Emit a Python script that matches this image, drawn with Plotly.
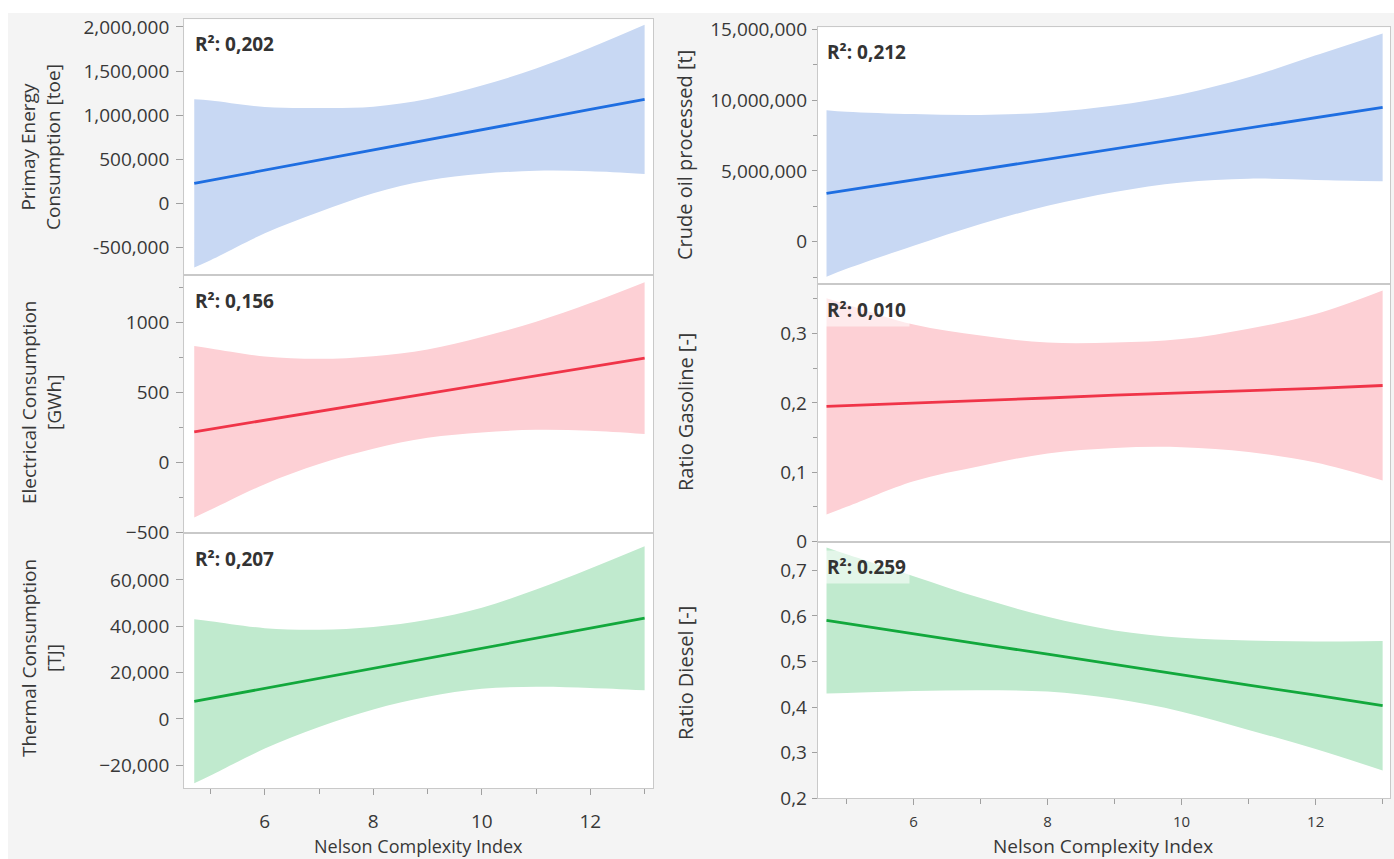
import plotly.graph_objects as go

W, H = 1394, 859

# ---------------- data ----------------
nci = [4.7, 5, 6, 7, 8, 9, 10, 11, 12, 13]

primary_fit = [227000, 261000, 376000, 491000, 605000, 720000, 835000, 949000, 1064000, 1179000]
primary_upper = [1180000, 1166000, 1092000, 1081000, 1095000, 1182000, 1335000, 1529000, 1764000, 2024000]
primary_lower = [-726000, -644000, -340000, -99000, 115000, 258000, 335000, 369000, 364000, 334000]

elec_fit = [219, 238, 301, 364, 428, 491, 554, 618, 681, 744]
elec_upper = [830, 813, 756, 739, 758, 806, 894, 1003, 1136, 1285]
elec_lower = [-392, -337, -154, -11, 98, 176, 214, 233, 226, 203]

thermal_fit = [7600, 8900, 13200, 17500, 21900, 26200, 30500, 34900, 39200, 43500]
thermal_upper = [43000, 42200, 39200, 38500, 39700, 42800, 48000, 55900, 65000, 74600]
thermal_lower = [-27800, -24400, -12800, -3500, 4100, 9600, 13000, 13900, 13400, 12400]

crude_fit = [3410000, 3630000, 4360000, 5100000, 5830000, 6560000, 7300000, 8030000, 8760000, 9490000]
crude_upper = [9290000, 9180000, 9010000, 8950000, 9130000, 9610000, 10420000, 11610000, 13160000, 14710000]
crude_lower = [-2470000, -1920000, -290000, 1250000, 2530000, 3510000, 4180000, 4450000, 4360000, 4270000]

gas_fit = [0.195, 0.196, 0.200, 0.203, 0.207, 0.211, 0.214, 0.218, 0.221, 0.225]
gas_upper = [0.351, 0.342, 0.313, 0.297, 0.287, 0.287, 0.292, 0.307, 0.328, 0.362]
gas_lower = [0.039, 0.050, 0.087, 0.109, 0.127, 0.135, 0.136, 0.129, 0.114, 0.088]

diesel_fit = [0.590, 0.583, 0.561, 0.538, 0.516, 0.493, 0.471, 0.448, 0.426, 0.403]
diesel_upper = [0.750, 0.735, 0.687, 0.639, 0.598, 0.568, 0.552, 0.546, 0.544, 0.545]
diesel_lower = [0.430, 0.431, 0.435, 0.437, 0.434, 0.418, 0.390, 0.350, 0.308, 0.261]

r2_labels = ["R²: 0,202", "R²: 0,156", "R²: 0,207", "R²: 0,212", "R²: 0,010", "R²: 0.259"]

y_titles = ["Primay Energy<br>Consumption [toe]", "Electrical Consumption<br>[GWh]",
            "Thermal Consumption<br>[TJ]", "Crude oil processed [t]",
            "Ratio Gasoline [-]", "Ratio Diesel [-]"]
x_title = "Nelson Complexity Index"

x_tickvals = [6, 8, 10, 12]
x_ticktext = ["6", "8", "10", "12"]

yt_primary = [-500000, 0, 500000, 1000000, 1500000, 2000000]
yl_primary = ["-500,000", "0", "500,000", "1,000,000", "1,500,000", "2,000,000"]
yt_elec = [-500, 0, 500, 1000]
yl_elec = ["\u2212500", "0", "500", "1000"]
yt_thermal = [-20000, 0, 20000, 40000, 60000]
yl_thermal = ["\u221220,000", "0", "20,000", "40,000", "60,000"]
yt_crude = [0, 5000000, 10000000, 15000000]
yl_crude = ["0", "5,000,000", "10,000,000", "15,000,000"]
yt_gas = [0, 0.1, 0.2, 0.3]
yl_gas = ["0", "0,1", "0,2", "0,3"]
yt_diesel = [0.2, 0.3, 0.4, 0.5, 0.6, 0.7]
yl_diesel = ["0,2", "0,3", "0,4", "0,5", "0,6", "0,7"]

# ---------------- styling ----------------
BLUE, BLUE_F = "rgb(30,110,225)", "rgb(200,216,243)"
RED, RED_F = "rgb(240,52,72)", "rgb(253,208,213)"
GREEN, GREEN_F = "rgb(18,168,60)", "rgb(192,234,206)"
FONT = "Open Sans"
TXT = "#383838"

def px_x(p):
    return p / W

def px_y(p):
    return 1 - p / H

L_X = (184.1, 653.3)
R_X = (817.8, 1390.0)
panels = [
    (primary_fit, primary_upper, primary_lower, BLUE, BLUE_F, L_X, (19.3, 275.0), [-812000, 2086000], yt_primary, yl_primary, None, [4.513, 13.16]),
    (elec_fit, elec_upper, elec_lower, RED, RED_F, L_X, (275.0, 532.7), [-500, 1336], yt_elec, yl_elec, 250, [4.513, 13.16]),
    (thermal_fit, thermal_upper, thermal_lower, GREEN, GREEN_F, L_X, (532.7, 788.0), [-29800, 80400], yt_thermal, yl_thermal, None, [4.513, 13.16]),
    (crude_fit, crude_upper, crude_lower, BLUE, BLUE_F, R_X, (27.3, 284.3), [-3010000, 15140000], yt_crude, yl_crude, 2500000, [4.57, 13.11]),
    (gas_fit, gas_upper, gas_lower, RED, RED_F, R_X, (284.3, 541.5), [0, 0.371], yt_gas, yl_gas, 0.05, [4.57, 13.11]),
    (diesel_fit, diesel_upper, diesel_lower, GREEN, GREEN_F, R_X, (541.5, 798.3), [0.2, 0.763], yt_diesel, yl_diesel, None, [4.57, 13.11]),
]

fig = go.Figure()
layout = {}
for i, (fit, up, lo, lc, fc, xd, yd, yr, tv, tt, minor, xr) in enumerate(panels):
    n = "" if i == 0 else str(i + 1)
    xa, ya = "x" + n, "y" + n
    fig.add_trace(go.Scatter(x=nci, y=lo, mode="lines", line=dict(width=0, color=fc, shape="spline"),
                             xaxis=xa, yaxis=ya, showlegend=False, hoverinfo="skip"))
    fig.add_trace(go.Scatter(x=nci, y=up, mode="lines", line=dict(width=0, color=fc, shape="spline"),
                             fill="tonexty", fillcolor=fc, xaxis=xa, yaxis=ya, showlegend=False, hoverinfo="skip"))
    fig.add_trace(go.Scatter(x=nci, y=fit, mode="lines", line=dict(width=2.8, color=lc),
                             xaxis=xa, yaxis=ya, showlegend=False))
    bottom = i in (2, 5)
    left = i < 3
    xax = dict(domain=[px_x(xd[0]), px_x(xd[1])], range=xr, anchor=ya, automargin=False,
               showline=True, mirror=True, linecolor="#c9c9c9", linewidth=1,
               showgrid=False, zeroline=False, fixedrange=True)
    if bottom:
        xax.update(tickmode="array", tickvals=x_tickvals, ticktext=x_ticktext,
                   ticks="outside", ticklen=6, tickcolor="#a0a0a0",
                   ticklabelstandoff=10 if left else 4,
                   tickfont=dict(family=FONT, size=19 if left else 15, color=TXT),
                   minor=dict(dtick=1, tick0=5, ticks="outside", ticklen=5, tickcolor="#a0a0a0"))
    else:
        xax.update(showticklabels=False, ticks="")
    yax = dict(domain=[px_y(yd[1]), px_y(yd[0])], range=yr, anchor=xa, automargin=False,
               showline=True, mirror=True, linecolor="#c9c9c9", linewidth=1,
               showgrid=False, zeroline=False, fixedrange=True,
               tickmode="array", tickvals=tv, ticktext=tt,
               ticks="outside", ticklen=7 if left else 5, tickcolor="#a0a0a0",
               ticklabelstandoff=3 if left else 1,
               tickfont=dict(family=FONT, size=19, color=TXT))
    if minor:
        yax["minor"] = dict(dtick=minor, tick0=0, ticks="outside", ticklen=4, tickcolor="#a0a0a0")
    layout["xaxis" + n] = xax
    layout["yaxis" + n] = yax

annotations = []
r2_pos = [(193.6, 44), (193.6, 301.3), (193.6, 559.3), (826, 52.5), (826, 310), (826, 566.7)]
for (x, y), t in zip(r2_pos, r2_labels):
    annotations.append(dict(text="<b>" + t + "</b>", x=px_x(x - 3), y=px_y(y), xref="paper", yref="paper",
                            xanchor="left", yanchor="middle", showarrow=False,
                            font=dict(family=FONT, size=19, color="#333333"),
                            bgcolor="rgba(255,255,255,0.55)", borderpad=3))
yt_pos = [(40, 147), (41, 403), (41, 658), (685, 155), (685, 412), (685, 673)]
for (x, y), t in zip(yt_pos, y_titles):
    annotations.append(dict(text=t, x=px_x(x), y=px_y(y), xref="paper", yref="paper",
                            xanchor="center", yanchor="middle", textangle=-90, showarrow=False,
                            font=dict(family=FONT, size=19 if x < 100 else 20, color=TXT)))
annotations.append(dict(text=x_title, x=px_x(418), y=px_y(846), xref="paper", yref="paper",
                        xanchor="center", yanchor="middle", showarrow=False,
                        font=dict(family=FONT, size=18, color=TXT)))
annotations.append(dict(text=x_title, x=px_x(1103), y=px_y(846), xref="paper", yref="paper",
                        xanchor="center", yanchor="middle", showarrow=False,
                        font=dict(family=FONT, size=19, color=TXT)))

shapes = [
    dict(type="rect", xref="paper", yref="paper", x0=0, x1=1, y0=px_y(13), y1=1,
         fillcolor="white", line=dict(width=0), layer="below"),
    dict(type="rect", xref="paper", yref="paper", x0=0, x1=px_x(8), y0=0, y1=1,
         fillcolor="white", line=dict(width=0), layer="below"),
]

fig.update_layout(width=W, height=H, margin=dict(l=0, r=0, t=0, b=0, pad=0, autoexpand=False),
                  paper_bgcolor="#f4f4f4", plot_bgcolor="white",
                  font=dict(family=FONT, color=TXT), showlegend=False,
                  annotations=annotations, shapes=shapes, **layout)

fig.write_html("out.html", config={"displayModeBar": False, "responsive": False},
               post_script="document.body.style.margin='0';document.body.style.overflow='hidden';")
